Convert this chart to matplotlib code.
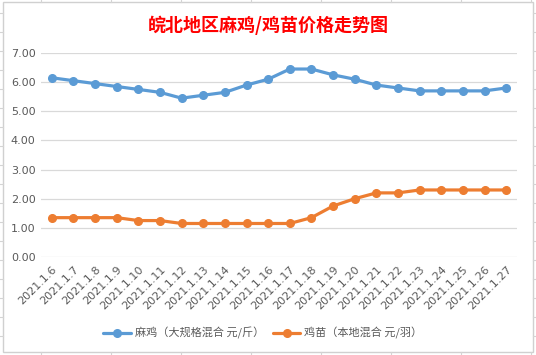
import matplotlib
matplotlib.use("Agg")
import matplotlib.pyplot as plt
from matplotlib.patches import Rectangle
import numpy as np

plt.rcParams['font.family'] = ['Noto Sans CJK SC', 'DejaVu Sans']

dates = ['2021.1.6', '2021.1.7', '2021.1.8', '2021.1.9', '2021.1.10', '2021.1.11',
         '2021.1.12', '2021.1.13', '2021.1.14', '2021.1.15', '2021.1.16', '2021.1.17',
         '2021.1.18', '2021.1.19', '2021.1.20', '2021.1.21', '2021.1.22', '2021.1.23',
         '2021.1.24', '2021.1.25', '2021.1.26', '2021.1.27']
maji = [6.15, 6.05, 5.95, 5.85, 5.75, 5.65, 5.45, 5.55, 5.65, 5.9, 6.1, 6.45,
        6.45, 6.25, 6.1, 5.9, 5.8, 5.7, 5.7, 5.7, 5.7, 5.8]
jimiao = [1.35, 1.35, 1.35, 1.35, 1.25, 1.25, 1.15, 1.15, 1.15, 1.15, 1.15, 1.15,
          1.35, 1.75, 2.0, 2.2, 2.2, 2.3, 2.3, 2.3, 2.3, 2.3]
labels = ['麻鸡（大规格混合 元/斤）', '鸡苗（本地混合 元/羽）']
yticks = [0, 1, 2, 3, 4, 5, 6, 7]

W, H = 536, 355
fig = plt.figure(figsize=(W / 100, H / 100), dpi=100)

# spreadsheet background stubs + chart border
bg = fig.add_axes([0, 0, 1, 1])
bg.set_xlim(0, W)
bg.set_ylim(H, 0)
bg.axis('off')
grid_c = '#d4d4d4'
for yy in [13, 32, 51, 70, 89, 108, 127, 146, 165, 184, 203, 222, 241, 260, 279, 298, 317, 336]:
    bg.plot([0, 3], [yy, yy], color=grid_c, lw=0.8)
    bg.plot([533, 536], [yy, yy], color=grid_c, lw=0.8)
for xx in [41, 111, 181, 251, 321, 391, 461, 531]:
    bg.plot([xx, xx], [0, 2], color=grid_c, lw=0.8)
    bg.plot([xx, xx], [352, 355], color=grid_c, lw=0.8)
bg.add_patch(Rectangle((3, 2), 530, 350, fill=True, facecolor='white',
                       edgecolor='#d0d0d0', lw=1.0))

ax = fig.add_axes([41 / W, 1 - 257 / H, 476 / W, 204 / H])
ax.set_facecolor('none')
x = np.arange(len(dates))
ax.plot(x, maji, color='#5B9BD5', lw=2.3, marker='o', markersize=5.5,
        label=labels[0], solid_capstyle='round')
ax.plot(x, jimiao, color='#ED7D31', lw=2.3, marker='o', markersize=5.5,
        label=labels[1], solid_capstyle='round')

ax.set_xlim(-0.5, len(dates) - 0.5)
ax.set_ylim(0, 7)
ax.set_yticks(yticks)
ax.set_yticklabels([f'{v:.2f}' for v in yticks], color='#595959', fontsize=8,
                   family=['DejaVu Sans'])
ax.set_xticks(x)
ax.set_xticklabels(dates, rotation=45, ha='right', va='top', rotation_mode='anchor',
                   color='#595959', fontsize=8, family=['DejaVu Sans'])
ax.tick_params(length=0, pad=4)
ax.tick_params(axis='x', pad=5)
ax.grid(axis='y', color='#d9d9d9', lw=0.9)
ax.set_axisbelow(True)
for s in ax.spines.values():
    s.set_visible(False)

fig.text(0.5, 1 - 25 / H, '皖北地区麻鸡/鸡苗价格走势图', color='red', fontsize=13,
         fontweight='bold', ha='center', va='center')

fig.legend(loc='center', bbox_to_anchor=(0.49, 1 - 333 / H), ncol=2, frameon=False,
           fontsize=8, labelcolor='#595959', handlelength=2.5, columnspacing=0.8,
           handletextpad=0.3, borderaxespad=0)

fig.savefig('out.png', dpi=100)
